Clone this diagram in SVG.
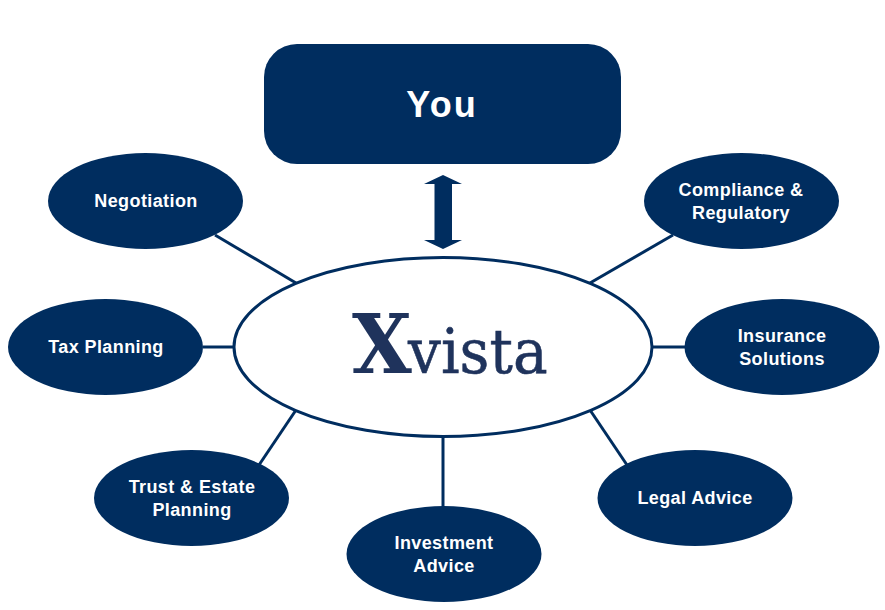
<svg xmlns="http://www.w3.org/2000/svg" width="885" height="610" viewBox="0 0 885 610">
<style>
.n{fill:#002d5f}
.c{stroke:#002d5f;stroke-width:3;fill:none}
.t{font-family:"Liberation Sans",Arial,sans-serif;font-weight:bold;font-size:18px;letter-spacing:.4px;fill:#fff;text-anchor:middle}
</style>
<rect width="885" height="610" fill="#fff"/>
<g id="connectors">
<line class="c" x1="215" y1="235" x2="296" y2="283"/>
<line class="c" x1="203" y1="347" x2="235" y2="347"/>
<line class="c" x1="259" y1="465" x2="296" y2="410"/>
<line class="c" x1="443" y1="507" x2="443" y2="436"/>
<line class="c" x1="627" y1="465" x2="590" y2="410"/>
<line class="c" x1="685" y1="347" x2="651" y2="347"/>
<line class="c" x1="673" y1="235" x2="590" y2="283"/>
<polygon class="n" points="443,175 462,184 452,184 452,240 462,240 443,249 424,240 434.500,240 434.500,184 424,184"/>
</g>
<g id="you"><rect class="n" x="264" y="44" width="357" height="120" rx="33"/>
<text class="t" x="442" y="117" style="font-size:36px;letter-spacing:2px">You</text></g>
<g id="xvista"><ellipse cx="443" cy="347" rx="209" ry="89.500" fill="#fff" stroke="#002d5f" stroke-width="3"/>
<text transform="translate(352 373) scale(.94 1)" font-family="'DejaVu Serif',serif" fill="#1f335c"><tspan font-weight="bold" font-size="82">X</tspan><tspan dx="-4" font-size="62" stroke="#1f335c" stroke-width=".6">vista</tspan></text></g>
<g id="negotiation"><ellipse class="n" cx="145.500" cy="201" rx="97.500" ry="48"/><text class="t" x="146" y="207">Negotiation</text></g>
<g id="tax"><ellipse class="n" cx="105.500" cy="347" rx="97.500" ry="48"/><text class="t" x="106" y="353">Tax Planning</text></g>
<g id="trust"><ellipse class="n" cx="191.500" cy="498" rx="97.500" ry="48"/><text class="t" x="192" y="493">Trust &amp; Estate</text><text class="t" x="192" y="516">Planning</text></g>
<g id="investment"><ellipse class="n" cx="444" cy="554" rx="97.500" ry="48"/><text class="t" x="444" y="549">Investment</text><text class="t" x="444" y="572">Advice</text></g>
<g id="legal"><ellipse class="n" cx="695" cy="498" rx="97.500" ry="48"/><text class="t" x="695" y="504">Legal Advice</text></g>
<g id="insurance"><ellipse class="n" cx="782" cy="347" rx="97.500" ry="48"/><text class="t" x="782" y="342">Insurance</text><text class="t" x="782" y="365">Solutions</text></g>
<g id="compliance"><ellipse class="n" cx="741.500" cy="201" rx="97.500" ry="48"/><text class="t" x="741" y="196">Compliance &amp;</text><text class="t" x="741" y="219">Regulatory</text></g>
</svg>
